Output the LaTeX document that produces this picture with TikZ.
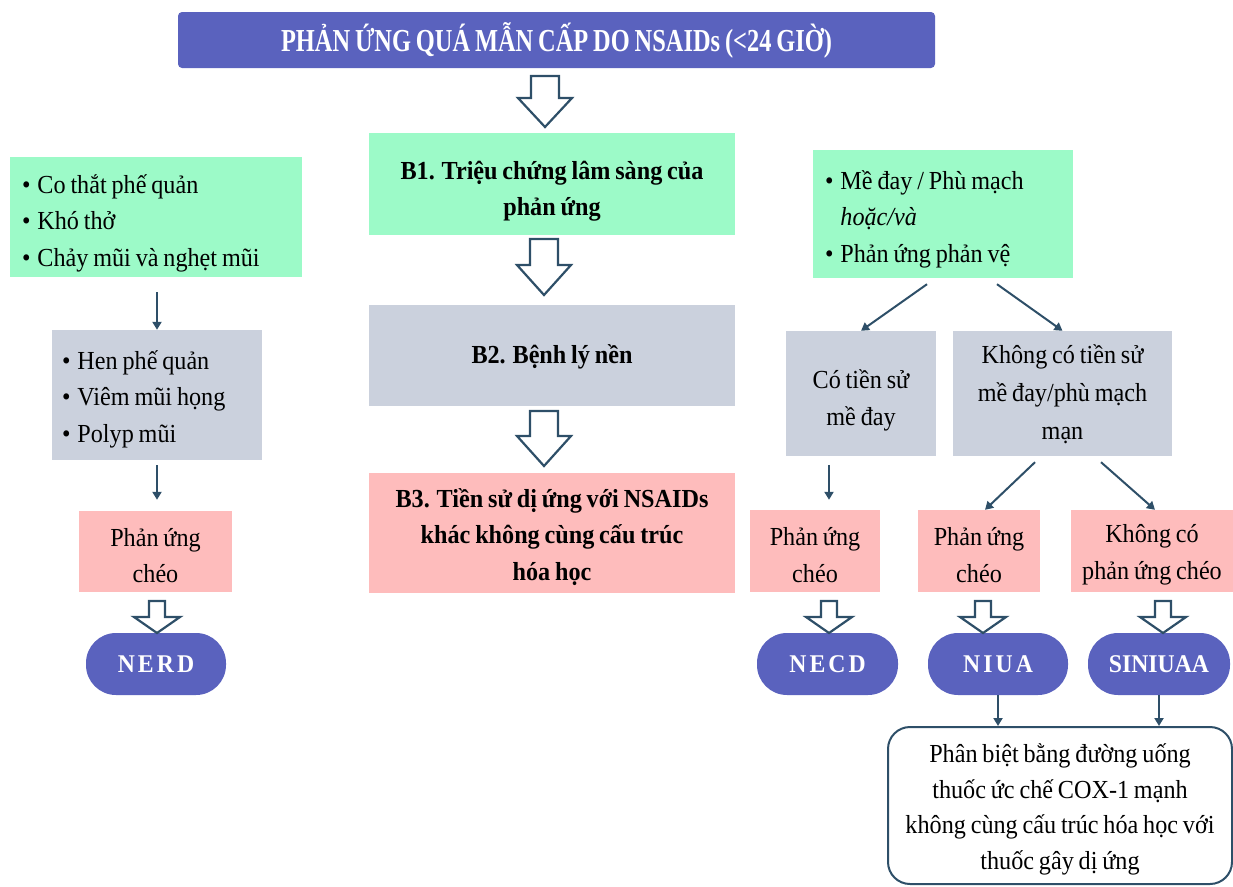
\documentclass[tikz,border=0pt]{standalone}
\usepackage{fontspec}
\setmainfont[FakeStretch=0.93,WordSpace=0.8]{Liberation Serif}
\usetikzlibrary{arrows.meta,calc}
\definecolor{cgreen}{HTML}{9CFAC8}
\definecolor{cgray}{HTML}{CBD1DD}
\definecolor{cpink}{HTML}{FEBCBC}
\definecolor{cblue}{HTML}{5A62BE}
\definecolor{cdark}{HTML}{2E4F68}
\newcommand{\harrow}[6]{%
  \draw[hollow] (#1-#4,#2) -- (#1+#4,#2) -- (#1+#4,#3-#6) -- (#1+#5,#3-#6) -- (#1,#3) -- (#1-#5,#3-#6) -- (#1-#4,#3-#6) -- cycle;}
\newcommand{\bul}{\textbullet\hspace{7pt}}
\begin{document}
\begin{tikzpicture}[x=1pt,y=-1pt,
  shp/.style={inner sep=0pt},
  txt/.style={inner sep=0pt, align=center, text=black, font=\fontsize{26}{36.5}\selectfont},
  btxt/.style={txt, font=\bfseries\fontsize{26}{36.5}\selectfont},
  wh/.style 2 args={minimum width=#1pt, minimum height=#2pt},
  gfill/.style={shp, fill=cgreen},
  gyfill/.style={shp, fill=cgray},
  pkfill/.style={shp, fill=cpink},
  pill/.style={fill=cblue, rounded corners=30pt, text=white, inner sep=0pt, minimum height=62pt,
     font=\bfseries\fontsize{25.5}{30}\selectfont},
  sarrow/.style={draw=cdark, line width=2pt, -{Triangle[width=9pt,length=8pt]}},
  hollow/.style={draw=cdark, line width=2.2pt, fill=white, line join=miter}
]
\useasboundingbox (0,0) rectangle (1233,886);

% title
\node[fill=cblue, rounded corners=4pt, wh={757}{56}, inner sep=0pt, text=white,
  font=\bfseries\fontsize{32}{36}\selectfont] (title) at (556.5,40)
  {\scalebox{0.82}[1]{PHẢN ỨNG QUÁ MẪN CẤP DO NSAIDs (<24 GIỜ)}};

% center column
\node[gfill, wh={366}{102}] (b1) at (552,184) {};
\node[btxt, yshift=-7pt] (b1t) at (b1) {B1. Triệu chứng lâm sàng của\\phản ứng};
\node[gyfill, wh={366}{101}] (b2) at (552,355.5) {};
\node[btxt, yshift=-1pt] (b2t) at (b2) {B2. Bệnh lý nền};
\node[pkfill, wh={366}{120}] (b3) at (552,533) {};
\node[btxt, yshift=-4pt] (b3t) at (b3) {B3. Tiền sử dị ứng với NSAIDs\\khác không cùng cấu trúc\\hóa học};

% left column
\node[gfill, wh={292}{120}] (l1) at (156,217) {};
\node[txt, align=left, yshift=-6pt, anchor=west] (l1t) at ([xshift=12pt]l1.west)
  {\bul Co thắt phế quản\\\bul Khó thở\\\bul Chảy mũi và nghẹt mũi};
\node[gyfill, wh={210}{130}] (l2) at (157,395) {};
\node[txt, align=left, yshift=-4pt, anchor=west] (l2t) at ([xshift=10pt]l2.west)
  {\bul Hen phế quản\\\bul Viêm mũi họng\\\bul Polyp mũi};
\node[pkfill, wh={153}{81}] (l3) at (155.5,551.5) {};
\node[txt, yshift=-4pt] (l3t) at (l3) {Phản ứng\\chéo};
\node[pill, minimum width=140pt] (nerd) at (156,664) {\addfontfeatures{LetterSpace=12}NERD};

% right column
\node[gfill, wh={260}{128}] (r1) at (943,214) {};
\node[txt, align=left, yshift=-5pt, anchor=west] (r1t) at ([xshift=12pt]r1.west)
  {\bul Mề đay / Phù mạch\\\phantom{\bul}\textit{hoặc/và}\\\bul Phản ứng phản vệ};
\node[gyfill, wh={150}{125}] (r2a) at (861,393.5) {};
\node[txt, yshift=-7pt] (r2at) at (r2a) {Có tiền sử\\mề đay};
\node[gyfill, wh={219}{125}] (r2b) at (1062.5,393.5) {};
\node[txt, yshift=-1pt, font=\fontsize{26}{38}\selectfont] (r2bt) at (r2b) {Không có tiền sử\\mề đay/phù mạch\\mạn};
\node[pkfill, wh={130}{82}] (r3a) at (815,551) {};
\node[txt, yshift=-4pt] (r3at) at (r3a) {Phản ứng\\chéo};
\node[pkfill, wh={122}{82}] (r3b) at (979,551) {};
\node[txt, yshift=-4pt] (r3bt) at (r3b) {Phản ứng\\chéo};
\node[pkfill, wh={162}{82}] (r3c) at (1152,551) {};
\node[txt, yshift=-4pt] (r3ct) at (r3c) {Không có\\phản ứng chéo};
\node[pill, minimum width=141pt] (necd) at (827.5,664) {\addfontfeatures{LetterSpace=12}NECD};
\node[pill, minimum width=140pt] (niua) at (998,664) {\addfontfeatures{LetterSpace=12}NIUA};
\node[pill, minimum width=142pt] (siniuaa) at (1159,664) {SINIUAA};
\node[shp, draw=cdark, line width=2pt, rounded corners=22pt, fill=white, wh={344}{157}] (fin) at (1060,805.5) {};
\node[txt, yshift=-4pt, font=\fontsize{26}{35.5}\selectfont] (fint) at (fin)
  {Phân biệt bằng đường uống\\thuốc ức chế COX-1 mạnh\\không cùng cấu trúc hóa học với\\thuốc gây dị ứng};

% hollow arrows
\harrow{545}{76}{127}{14}{27}{29}
\harrow{544}{239}{295}{14}{27}{30}
\harrow{544}{411}{466}{14}{27}{30}
\harrow{157}{601}{633}{8}{23}{16}
\harrow{829}{601}{633}{8}{23}{16}
\harrow{983}{601}{633}{8}{23}{16}
\harrow{1163}{601}{633}{8}{23}{16}

% thin arrows
\draw[sarrow, shorten <=15pt] (l2.north |- l1.south) -- (l2.north);
\draw[sarrow, shorten <=5pt, shorten >=11pt] (l2.south) -- (l2.south |- l3.north);
\draw[sarrow] ([xshift=-16pt,yshift=-6pt]r1.south) -- (r2a.north);
\draw[sarrow] ([xshift=54pt,yshift=-6pt]r1.south) -- (r2b.north);
\draw[sarrow] ($(r3a.north)+(14,-45)$) -- ($(r3a.north)+(14,-10)$);
\draw[sarrow] ([xshift=-27.5pt,yshift=-6pt]r2b.south) -- ([xshift=6pt]r3b.north);
\draw[sarrow] ([xshift=38.5pt,yshift=-6pt]r2b.south) -- ([xshift=3pt]r3c.north);
\draw[sarrow] (niua.south) -- (niua.south |- fin.north);
\draw[sarrow] (siniuaa.south) -- (siniuaa.south |- fin.north);
\end{tikzpicture}
\end{document}
